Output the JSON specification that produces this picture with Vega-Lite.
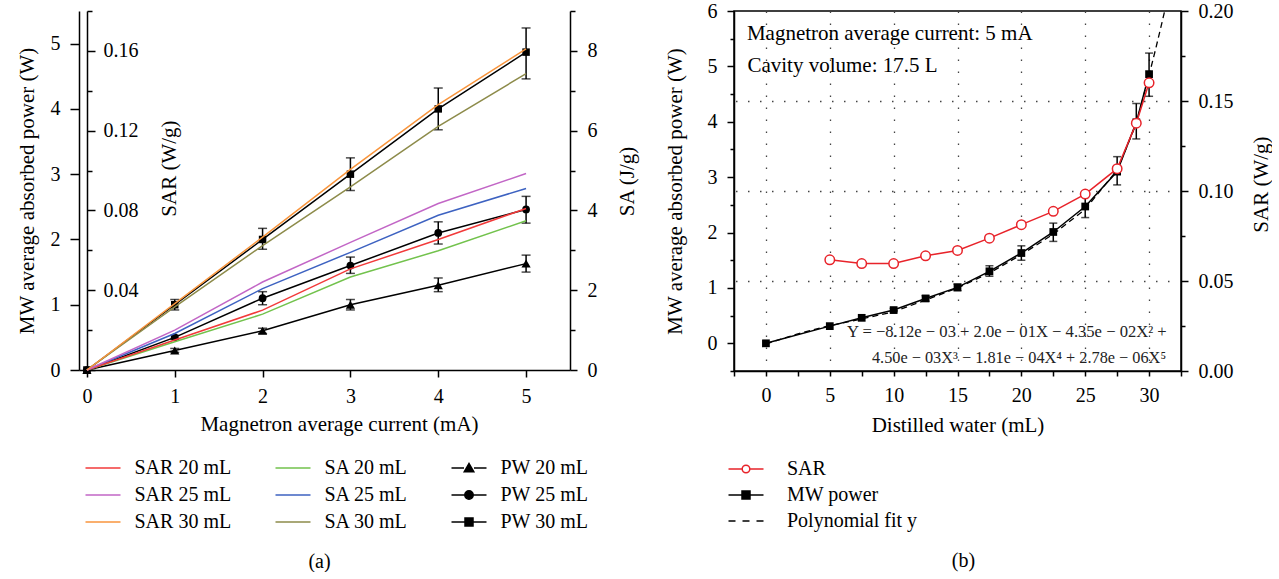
{
  "$schema": "https://vega.github.io/schema/vega-lite/v6.json",
  "background": "white",
  "padding": {"left": 16, "top": 0, "right": 0, "bottom": 0},
  "spacing": 164,
  "bounds": "flush",
  "resolve": {"scale": {"fill": "independent", "stroke": "independent", "shape": "independent", "color": "independent"}},
  "datasets": {
    "pw": [
      {"I": 0, "s": "PW 20 mL", "v": 0, "lo": 0, "hi": 0},
      {"I": 1, "s": "PW 20 mL", "v": 0.30, "lo": 0.27, "hi": 0.33},
      {"I": 2, "s": "PW 20 mL", "v": 0.60, "lo": 0.56, "hi": 0.64},
      {"I": 3, "s": "PW 20 mL", "v": 1.00, "lo": 0.92, "hi": 1.08},
      {"I": 4, "s": "PW 20 mL", "v": 1.30, "lo": 1.20, "hi": 1.41},
      {"I": 5, "s": "PW 20 mL", "v": 1.63, "lo": 1.50, "hi": 1.76},
      {"I": 0, "s": "PW 25 mL", "v": 0, "lo": 0, "hi": 0},
      {"I": 1, "s": "PW 25 mL", "v": 0.50, "lo": 0.47, "hi": 0.53},
      {"I": 2, "s": "PW 25 mL", "v": 1.10, "lo": 1.00, "hi": 1.20},
      {"I": 3, "s": "PW 25 mL", "v": 1.60, "lo": 1.48, "hi": 1.73},
      {"I": 4, "s": "PW 25 mL", "v": 2.10, "lo": 1.93, "hi": 2.27},
      {"I": 5, "s": "PW 25 mL", "v": 2.46, "lo": 2.25, "hi": 2.66},
      {"I": 0, "s": "PW 30 mL", "v": 0, "lo": 0, "hi": 0},
      {"I": 1, "s": "PW 30 mL", "v": 1.00, "lo": 0.92, "hi": 1.08},
      {"I": 2, "s": "PW 30 mL", "v": 2.00, "lo": 1.85, "hi": 2.17},
      {"I": 3, "s": "PW 30 mL", "v": 3.00, "lo": 2.75, "hi": 3.25},
      {"I": 4, "s": "PW 30 mL", "v": 4.00, "lo": 3.68, "hi": 4.32},
      {"I": 5, "s": "PW 30 mL", "v": 4.87, "lo": 4.46, "hi": 5.24}
    ],
    "sar": [
      {"I": 0, "s": "SAR 20 mL", "v": 0}, {"I": 1, "s": "SAR 20 mL", "v": 0.015}, {"I": 2, "s": "SAR 20 mL", "v": 0.030}, {"I": 3, "s": "SAR 20 mL", "v": 0.0507}, {"I": 4, "s": "SAR 20 mL", "v": 0.0654}, {"I": 5, "s": "SAR 20 mL", "v": 0.081},
      {"I": 0, "s": "SAR 25 mL", "v": 0}, {"I": 1, "s": "SAR 25 mL", "v": 0.020}, {"I": 2, "s": "SAR 25 mL", "v": 0.0441}, {"I": 3, "s": "SAR 25 mL", "v": 0.064}, {"I": 4, "s": "SAR 25 mL", "v": 0.0835}, {"I": 5, "s": "SAR 25 mL", "v": 0.0985},
      {"I": 0, "s": "SAR 30 mL", "v": 0}, {"I": 1, "s": "SAR 30 mL", "v": 0.0333}, {"I": 2, "s": "SAR 30 mL", "v": 0.0666}, {"I": 3, "s": "SAR 30 mL", "v": 0.1006}, {"I": 4, "s": "SAR 30 mL", "v": 0.1331}, {"I": 5, "s": "SAR 30 mL", "v": 0.161}
    ],
    "sa": [
      {"I": 0, "s": "SA 20 mL", "v": 0}, {"I": 1, "s": "SA 20 mL", "v": 0.71}, {"I": 2, "s": "SA 20 mL", "v": 1.40}, {"I": 3, "s": "SA 20 mL", "v": 2.33}, {"I": 4, "s": "SA 20 mL", "v": 2.99}, {"I": 5, "s": "SA 20 mL", "v": 3.74},
      {"I": 0, "s": "SA 25 mL", "v": 0}, {"I": 1, "s": "SA 25 mL", "v": 0.915}, {"I": 2, "s": "SA 25 mL", "v": 2.04}, {"I": 3, "s": "SA 25 mL", "v": 2.95}, {"I": 4, "s": "SA 25 mL", "v": 3.88}, {"I": 5, "s": "SA 25 mL", "v": 4.55},
      {"I": 0, "s": "SA 30 mL", "v": 0}, {"I": 1, "s": "SA 30 mL", "v": 1.58}, {"I": 2, "s": "SA 30 mL", "v": 3.12}, {"I": 3, "s": "SA 30 mL", "v": 4.59}, {"I": 4, "s": "SA 30 mL", "v": 6.11}, {"I": 5, "s": "SA 30 mL", "v": 7.43}
    ],
    "leg_a": [
      {"s": "SAR 20 mL"}, {"s": "SAR 25 mL"}, {"s": "SAR 30 mL"},
      {"s": "SA 20 mL"}, {"s": "SA 25 mL"}, {"s": "SA 30 mL"},
      {"s": "PW 20 mL"}, {"s": "PW 25 mL"}, {"s": "PW 30 mL"}
    ],
    "mw": [
      {"w": 0, "p": 0}, {"w": 5, "p": 0.31}, {"w": 7.5, "p": 0.46},
      {"w": 10, "p": 0.60, "lo": 0.57, "hi": 0.63},
      {"w": 12.5, "p": 0.81, "lo": 0.76, "hi": 0.86},
      {"w": 15, "p": 1.01, "lo": 0.95, "hi": 1.07},
      {"w": 17.5, "p": 1.30, "lo": 1.21, "hi": 1.40},
      {"w": 20, "p": 1.63, "lo": 1.50, "hi": 1.76},
      {"w": 22.5, "p": 2.01, "lo": 1.84, "hi": 2.17},
      {"w": 25, "p": 2.47, "lo": 2.27, "hi": 2.66},
      {"w": 27.5, "p": 3.10, "lo": 2.86, "hi": 3.37},
      {"w": 29, "p": 3.99, "lo": 3.69, "hi": 4.33},
      {"w": 30, "p": 4.86, "lo": 4.46, "hi": 5.24}
    ],
    "sarb": [
      {"w": 5, "r": 0.0618}, {"w": 7.5, "r": 0.0597}, {"w": 10, "r": 0.0597}, {"w": 12.5, "r": 0.064},
      {"w": 15, "r": 0.067}, {"w": 17.5, "r": 0.0738}, {"w": 20, "r": 0.0813}, {"w": 22.5, "r": 0.0887},
      {"w": 25, "r": 0.0983}, {"w": 27.5, "r": 0.1124}, {"w": 29, "r": 0.1377}, {"w": 30, "r": 0.1601}
    ],
    "fit": [
      {"w": 0, "p": -0.01}, {"w": 2.5, "p": 0.17}, {"w": 5, "p": 0.32}, {"w": 7.5, "p": 0.44},
      {"w": 10, "p": 0.57}, {"w": 12.5, "p": 0.78}, {"w": 15, "p": 1.0}, {"w": 17.5, "p": 1.27},
      {"w": 20, "p": 1.6}, {"w": 22.5, "p": 1.97}, {"w": 25, "p": 2.42}, {"w": 27.5, "p": 3.13},
      {"w": 29, "p": 3.97}, {"w": 30, "p": 4.84}, {"w": 30.5, "p": 5.3}, {"w": 31, "p": 5.78}, {"w": 31.3, "p": 6.08}
    ],
    "leg_b": [{"s": "SAR"}, {"s": "MW power"}, {"s": "Polynomial fit y"}],
    "note": [{"t": 1}]
  },
  "hconcat": [
    {
      "width": 491,
      "height": 359,
      "title": {"text": "(a)", "orient": "bottom", "anchor": "middle", "frame": "group", "offset": 20, "dx": -5},
      "layer": [
        {
          "layer": [
            {
              "data": {"name": "pw"},
              "mark": {"type": "line", "color": "black", "strokeWidth": 1.5},
              "encoding": {
                "x": {"field": "I", "type": "quantitative", "scale": {"domain": [-0.09, 5.5], "nice": false, "zero": false},
                  "axis": {"values": [0, 0.5, 1, 1.5, 2, 2.5, 3, 3.5, 4, 4.5, 5, 5.5], "format": "d", "labelExpr": "datum.value % 1 === 0 ? datum.label : ''",
                    "tickSize": {"condition": {"test": "datum.value % 1 === 0", "value": 7}, "value": 4},
                    "labelPadding": 9.5, "title": "Magnetron average current (mA)", "titleX": 260, "titleY": 60, "titleBaseline": "alphabetic"}},
                "y": {"field": "v", "type": "quantitative", "scale": {"domain": [0, 5.5], "nice": false},
                  "axis": {"orient": "left", "values": [0, 0.5, 1, 1.5, 2, 2.5, 3, 3.5, 4, 4.5, 5, 5.5], "format": "d", "labelExpr": "datum.value % 1 === 0 ? datum.label : ''",
                    "tickSize": {"condition": {"test": "datum.value % 1 === 0", "value": 9}, "value": 6},
                    "labelPadding": 10, "title": "MW average absorbed power (W)", "titleX": -46, "titleBaseline": "alphabetic"}},
                "detail": {"field": "s", "type": "nominal"}
              }
            },
            {
              "data": {"name": "pw"},
              "transform": [{"filter": "datum.hi > datum.lo"}],
              "mark": {"type": "errorbar", "ticks": {"size": 9}, "thickness": 1.5, "color": "black"},
              "encoding": {
                "x": {"field": "I", "type": "quantitative", "scale": {"domain": [-0.09, 5.5], "nice": false, "zero": false}, "title": "Magnetron average current (mA)"},
                "y": {"field": "lo", "type": "quantitative", "scale": {"domain": [0, 5.5], "nice": false}, "title": "MW average absorbed power (W)"},
                "y2": {"field": "hi"}
              }
            },
            {
              "data": {"name": "pw"},
              "transform": [{"filter": "datum.s === 'PW 20 mL'"}],
              "mark": {"type": "point", "shape": "triangle-up", "filled": true, "color": "black", "opacity": 1, "size": 85},
              "encoding": {
                "x": {"field": "I", "type": "quantitative", "scale": {"domain": [-0.09, 5.5], "nice": false, "zero": false}},
                "y": {"field": "v", "type": "quantitative", "scale": {"domain": [0, 5.5], "nice": false}}
              }
            },
            {
              "data": {"name": "pw"},
              "transform": [{"filter": "datum.s === 'PW 25 mL'"}],
              "mark": {"type": "point", "shape": "circle", "filled": true, "color": "black", "opacity": 1, "size": 60},
              "encoding": {
                "x": {"field": "I", "type": "quantitative", "scale": {"domain": [-0.09, 5.5], "nice": false, "zero": false}},
                "y": {"field": "v", "type": "quantitative", "scale": {"domain": [0, 5.5], "nice": false}}
              }
            },
            {
              "data": {"name": "pw"},
              "transform": [{"filter": "datum.s === 'PW 30 mL'"}],
              "mark": {"type": "point", "shape": "square", "filled": true, "color": "black", "opacity": 1, "size": 56},
              "encoding": {
                "x": {"field": "I", "type": "quantitative", "scale": {"domain": [-0.09, 5.5], "nice": false, "zero": false}},
                "y": {"field": "v", "type": "quantitative", "scale": {"domain": [0, 5.5], "nice": false}}
              }
            }
          ]
        },
        {
          "data": {"name": "sa"},
          "mark": {"type": "line", "strokeWidth": 1.5},
          "encoding": {
            "x": {"field": "I", "type": "quantitative", "scale": {"domain": [-0.09, 5.5], "nice": false, "zero": false}},
            "y": {"field": "v", "type": "quantitative", "scale": {"domain": [0, 9], "nice": false},
              "axis": {"orient": "right", "values": [0, 1, 2, 3, 4, 5, 6, 7, 8, 9], "format": "d", "labelExpr": "datum.value % 2 === 0 ? datum.label : ''",
                "tickSize": {"condition": {"test": "datum.value % 2 === 0", "value": 7}, "value": 5},
                "labelPadding": 10, "title": "SA (J/g)", "titleAngle": -90, "titleX": 63, "titleY": 170, "titleBaseline": "alphabetic"}},
            "color": {"field": "s", "type": "nominal", "legend": null,
              "scale": {"domain": ["SAR 20 mL", "SAR 25 mL", "SAR 30 mL", "SA 20 mL", "SA 25 mL", "SA 30 mL"],
                "range": ["#f23a3a", "#c266c6", "#f8953d", "#72c24c", "#3d62c1", "#8d8b4a"]}}
          }
        },
        {
          "data": {"name": "sar"},
          "mark": {"type": "line", "strokeWidth": 1.5},
          "encoding": {
            "x": {"field": "I", "type": "quantitative", "scale": {"domain": [-0.09, 5.5], "nice": false, "zero": false}},
            "y": {"field": "v", "type": "quantitative", "scale": {"domain": [0, 0.18], "nice": false},
              "axis": {"orient": "left", "offset": -8, "values": [0, 0.02, 0.04, 0.06, 0.08, 0.1, 0.12, 0.14, 0.16, 0.18], "format": ".2f",
                "labelExpr": "datum.value > 0.01 && abs(datum.value * 25 - round(datum.value * 25)) < 0.001 ? datum.label : ''",
                "tickSize": {"condition": {"test": "abs(datum.value * 25 - round(datum.value * 25)) < 0.001", "value": -8}, "value": -5},
                "labelPadding": -8, "labelAlign": "left",
                "title": "SAR (W/g)", "titleAngle": -90, "titleX": 88, "titleY": 157, "titleBaseline": "alphabetic"}},
            "color": {"field": "s", "type": "nominal", "legend": null,
              "scale": {"domain": ["SAR 20 mL", "SAR 25 mL", "SAR 30 mL", "SA 20 mL", "SA 25 mL", "SA 30 mL"],
                "range": ["#f23a3a", "#c266c6", "#f8953d", "#72c24c", "#3d62c1", "#8d8b4a"]}}
          }
        },
        {
          "data": {"name": "leg_a"},
          "transform": [{"filter": "false"}],
          "mark": {"type": "point", "filled": true, "opacity": 1, "strokeWidth": 1.5},
          "encoding": {
            "fill": {"field": "s", "type": "nominal",
              "scale": {"domain": ["SAR 20 mL", "SAR 25 mL", "SAR 30 mL", "SA 20 mL", "SA 25 mL", "SA 30 mL", "PW 20 mL", "PW 25 mL", "PW 30 mL"],
                "range": ["transparent", "transparent", "transparent", "transparent", "transparent", "transparent", "black", "black", "black"]},
              "legend": {"title": null, "orient": "none", "legendX": 13, "legendY": 446, "columns": 3, "symbolSize": 400, "symbolStrokeWidth": 1.5, "labelOffset": 20.5, "rowPadding": 6, "columnPadding": 40, "labelFontSize": 20, "labelFont": "Liberation Serif", "labelColor": "black"}},
            "stroke": {"field": "s", "type": "nominal",
              "scale": {"domain": ["SAR 20 mL", "SAR 25 mL", "SAR 30 mL", "SA 20 mL", "SA 25 mL", "SA 30 mL", "PW 20 mL", "PW 25 mL", "PW 30 mL"],
                "range": ["#f23a3a", "#c266c6", "#f8953d", "#72c24c", "#3d62c1", "#8d8b4a", "black", "black", "black"]},
              "legend": {"title": null, "orient": "none", "legendX": 13, "legendY": 446, "columns": 3, "symbolSize": 400, "symbolStrokeWidth": 1.5, "labelOffset": 20.5, "rowPadding": 6, "columnPadding": 40, "labelFontSize": 20, "labelFont": "Liberation Serif", "labelColor": "black"}},
            "shape": {"field": "s", "type": "nominal",
              "scale": {"domain": ["SAR 20 mL", "SAR 25 mL", "SAR 30 mL", "SA 20 mL", "SA 25 mL", "SA 30 mL", "PW 20 mL", "PW 25 mL", "PW 30 mL"],
                "range": ["M-1.75,0H1.75", "M-1.75,0H1.75", "M-1.75,0H1.75", "M-1.75,0H1.75", "M-1.75,0H1.75", "M-1.75,0H1.75",
                          "M-1.75,0H-0.5M0.5,0H1.75M-0.48,0.38L0,-0.45L0.48,0.38Z",
                          "M-1.75,0H-0.42M0.42,0H1.75M0.42,0A0.42,0.42 0 1,1 -0.42,0A0.42,0.42 0 1,1 0.42,0Z",
                          "M-1.75,0H-0.4M0.4,0H1.75M-0.4,-0.4H0.4V0.4H-0.4Z"]},
              "legend": {"title": null, "orient": "none", "legendX": 13, "legendY": 446, "columns": 3, "symbolSize": 400, "symbolStrokeWidth": 1.5, "labelOffset": 20.5, "rowPadding": 6, "columnPadding": 40, "labelFontSize": 20, "labelFont": "Liberation Serif", "labelColor": "black"}}
          }
        }
      ],
      "resolve": {"scale": {"y": "independent"}}
    },
    {
      "width": 447,
      "height": 360,
      "view": {"stroke": "black", "strokeWidth": 1.5},
      "title": {"text": "(b)", "orient": "bottom", "anchor": "middle", "frame": "group", "offset": 20, "dx": 6},
      "layer": [
        {
          "layer": [
            {
              "data": {"name": "mw"},
              "mark": {"type": "line", "color": "black", "strokeWidth": 1.5},
              "encoding": {
                "x": {"field": "w", "type": "quantitative", "scale": {"domain": [-2.5, 32.5], "nice": false, "zero": false},
                  "axis": {"values": [0, 5, 10, 15, 20, 25, 30], "format": "d", "tickSize": 5, "labelPadding": 9.5,
                    "grid": true, "gridDash": [1.5, 10.5], "gridColor": "#444", "gridWidth": 1.3,
                    "title": "Distilled water (mL)", "titleY": 60, "titleBaseline": "alphabetic"}},
                "y": {"field": "p", "type": "quantitative", "scale": {"domain": [-0.5, 6], "nice": false, "zero": false},
                  "axis": {"orient": "left", "values": [0, 1, 2, 3, 4, 5, 6], "format": "d", "tickSize": 7,
                    "labelPadding": 10, "title": "MW average absorbed power (W)", "titleX": -53, "titleBaseline": "alphabetic"}}
              }
            },
            {
              "data": {"name": "mw"},
              "transform": [{"filter": "isValid(datum.lo)"}],
              "mark": {"type": "errorbar", "ticks": {"size": 8}, "thickness": 1.5, "color": "black"},
              "encoding": {
                "x": {"field": "w", "type": "quantitative", "scale": {"domain": [-2.5, 32.5], "nice": false, "zero": false}, "title": "Distilled water (mL)"},
                "y": {"field": "lo", "type": "quantitative", "scale": {"domain": [-0.5, 6], "nice": false, "zero": false}, "title": "MW average absorbed power (W)"},
                "y2": {"field": "hi"}
              }
            },
            {
              "data": {"name": "mw"},
              "mark": {"type": "point", "shape": "square", "filled": true, "color": "black", "opacity": 1, "size": 60},
              "encoding": {
                "x": {"field": "w", "type": "quantitative", "scale": {"domain": [-2.5, 32.5], "nice": false, "zero": false}},
                "y": {"field": "p", "type": "quantitative", "scale": {"domain": [-0.5, 6], "nice": false, "zero": false}}
              }
            },
            {
              "data": {"name": "fit"},
              "mark": {"type": "line", "color": "black", "strokeWidth": 1.3, "strokeDash": [6, 4], "clip": true},
              "encoding": {
                "x": {"field": "w", "type": "quantitative", "scale": {"domain": [-2.5, 32.5], "nice": false, "zero": false}},
                "y": {"field": "p", "type": "quantitative", "scale": {"domain": [-0.5, 6], "nice": false, "zero": false}}
              }
            }
          ]
        },
        {
          "layer": [
            {
              "data": {"name": "note"},
              "mark": {"type": "text", "align": "left", "baseline": "alphabetic", "fontSize": 21, "font": "Liberation Serif", "color": "black"},
              "encoding": {
                "x": {"datum": -1.49, "type": "quantitative", "scale": {"domain": [-2.5, 32.5], "nice": false, "zero": false},
                  "axis": {"orient": "bottom", "values": [-2.5, 2.5, 7.5, 12.5, 17.5, 22.5, 27.5, 32.5], "labels": false, "domain": false, "grid": false, "tickSize": 5, "title": null}},
                "y": {"datum": 5.47, "type": "quantitative", "scale": {"domain": [-0.5, 6], "nice": false, "zero": false},
                  "axis": {"orient": "left", "values": [-0.5, 0.5, 1.5, 2.5, 3.5, 4.5, 5.5], "labels": false, "domain": false, "grid": false, "tickSize": 4, "title": null}},
                "text": {"value": "Magnetron average current: 5 mA"}
              }
            },
            {
              "data": {"name": "note"},
              "mark": {"type": "text", "align": "left", "baseline": "alphabetic", "fontSize": 21, "font": "Liberation Serif", "color": "black"},
              "encoding": {
                "x": {"datum": -1.45, "type": "quantitative", "scale": {"domain": [-2.5, 32.5], "nice": false, "zero": false}},
                "y": {"datum": 4.89, "type": "quantitative", "scale": {"domain": [-0.5, 6], "nice": false, "zero": false}},
                "text": {"value": "Cavity volume: 17.5 L"}
              }
            },
            {
              "data": {"name": "note"},
              "mark": {"type": "text", "align": "left", "baseline": "alphabetic", "fontSize": 16.6, "font": "Liberation Serif", "color": "#222"},
              "encoding": {
                "x": {"datum": 6.34, "type": "quantitative", "scale": {"domain": [-2.5, 32.5], "nice": false, "zero": false}},
                "y": {"datum": 0.11, "type": "quantitative", "scale": {"domain": [-0.5, 6], "nice": false, "zero": false}},
                "text": {"value": "Y = −8.12e − 03 + 2.0e − 01X − 4.35e − 02X² +"}
              }
            },
            {
              "data": {"name": "note"},
              "mark": {"type": "text", "align": "left", "baseline": "alphabetic", "fontSize": 16.3, "font": "Liberation Serif", "color": "#222"},
              "encoding": {
                "x": {"datum": 8.3, "type": "quantitative", "scale": {"domain": [-2.5, 32.5], "nice": false, "zero": false}},
                "y": {"datum": -0.36, "type": "quantitative", "scale": {"domain": [-0.5, 6], "nice": false, "zero": false}},
                "text": {"value": "4.50e − 03X³ − 1.81e − 04X⁴ + 2.78e − 06X⁵"}
              }
            }
          ]
        },
        {
          "layer": [
            {
              "data": {"name": "sarb"},
              "mark": {"type": "line", "color": "#e8232a", "strokeWidth": 1.5},
              "encoding": {
                "x": {"field": "w", "type": "quantitative", "scale": {"domain": [-2.5, 32.5], "nice": false, "zero": false}, "axis": null},
                "y": {"field": "r", "type": "quantitative", "scale": {"domain": [0, 0.2], "nice": false},
                  "axis": {"orient": "right", "values": [0, 0.025, 0.05, 0.075, 0.1, 0.125, 0.15, 0.175, 0.2], "format": ".2f",
                    "labelExpr": "abs(datum.value * 20 - round(datum.value * 20)) < 0.001 ? datum.label : ''",
                    "tickSize": {"condition": {"test": "abs(datum.value * 20 - round(datum.value * 20)) < 0.001", "value": 7}, "value": 4},
                    "labelPadding": 10,
                    "grid": true, "gridDash": [1.5, 10.5], "gridColor": "#444", "gridWidth": 1.3,
                    "gridOpacity": {"condition": {"test": "datum.value > 0.01 && datum.value < 0.19 && abs(datum.value * 20 - round(datum.value * 20)) < 0.001", "value": 1}, "value": 0},
                    "title": "SAR (W/g)", "titleAngle": -90, "titleX": 86, "titleY": 173, "titleBaseline": "alphabetic"}}
              }
            },
            {
              "data": {"name": "sarb"},
              "mark": {"type": "point", "shape": "circle", "filled": true, "fill": "white", "stroke": "#e8232a", "strokeWidth": 1.5, "opacity": 1, "size": 90},
              "encoding": {
                "x": {"field": "w", "type": "quantitative", "scale": {"domain": [-2.5, 32.5], "nice": false, "zero": false}, "axis": null},
                "y": {"field": "r", "type": "quantitative", "scale": {"domain": [0, 0.2], "nice": false}}
              }
            }
          ]
        },
        {
          "data": {"name": "leg_b"},
          "transform": [{"filter": "false"}],
          "mark": {"type": "point", "filled": true, "opacity": 1, "strokeWidth": 1.5},
          "encoding": {
            "fill": {"field": "s", "type": "nominal",
              "scale": {"domain": ["SAR", "MW power", "Polynomial fit y"], "range": ["white", "black", "transparent"]},
              "legend": {"title": null, "orient": "none", "legendX": 1, "legendY": 447, "columns": 1, "symbolSize": 400, "symbolStrokeWidth": 1.5, "labelOffset": 30, "rowPadding": 5, "labelFontSize": 20, "labelFont": "Liberation Serif", "labelColor": "black"}},
            "stroke": {"field": "s", "type": "nominal",
              "scale": {"domain": ["SAR", "MW power", "Polynomial fit y"], "range": ["#e8232a", "black", "black"]},
              "legend": {"title": null, "orient": "none", "legendX": 1, "legendY": 447, "columns": 1, "symbolSize": 400, "symbolStrokeWidth": 1.5, "labelOffset": 30, "rowPadding": 5, "labelFontSize": 20, "labelFont": "Liberation Serif", "labelColor": "black"}},
            "shape": {"field": "s", "type": "nominal",
              "scale": {"domain": ["SAR", "MW power", "Polynomial fit y"],
                "range": ["M-1.75,0H-0.42M0.42,0H1.75M0.38,0A0.38,0.38 0 1,1 -0.38,0A0.38,0.38 0 1,1 0.38,0Z",
                          "M-1.75,0H-0.4M0.4,0H1.75M-0.4,-0.4H0.4V0.4H-0.4Z",
                          "M-1.75,0H-1.05M-0.35,0H0.35M1.05,0H1.75"]},
              "legend": {"title": null, "orient": "none", "legendX": 1, "legendY": 447, "columns": 1, "symbolSize": 400, "symbolStrokeWidth": 1.5, "labelOffset": 30, "rowPadding": 5, "labelFontSize": 20, "labelFont": "Liberation Serif", "labelColor": "black"}}
          }
        }
      ],
      "resolve": {"scale": {"x": "independent", "y": "independent"}}
    }
  ],
  "config": {
    "font": "Liberation Serif",
    "view": {"stroke": null},
    "axis": {
      "domainColor": "black", "domainWidth": 1.5, "tickColor": "black", "tickWidth": 1.5,
      "labelFont": "Liberation Serif", "labelFontSize": 20, "labelColor": "black",
      "titleFont": "Liberation Serif", "titleFontSize": 21, "titleFontWeight": "normal", "titleColor": "black",
      "grid": false, "labelOverlap": false, "labelFlush": false, "labelBound": false
    },
    "legend": {"labelFont": "Liberation Serif", "labelFontSize": 20, "labelColor": "black"},
    "title": {"font": "Liberation Serif", "fontSize": 20, "fontWeight": "normal", "color": "black"}
  }
}
